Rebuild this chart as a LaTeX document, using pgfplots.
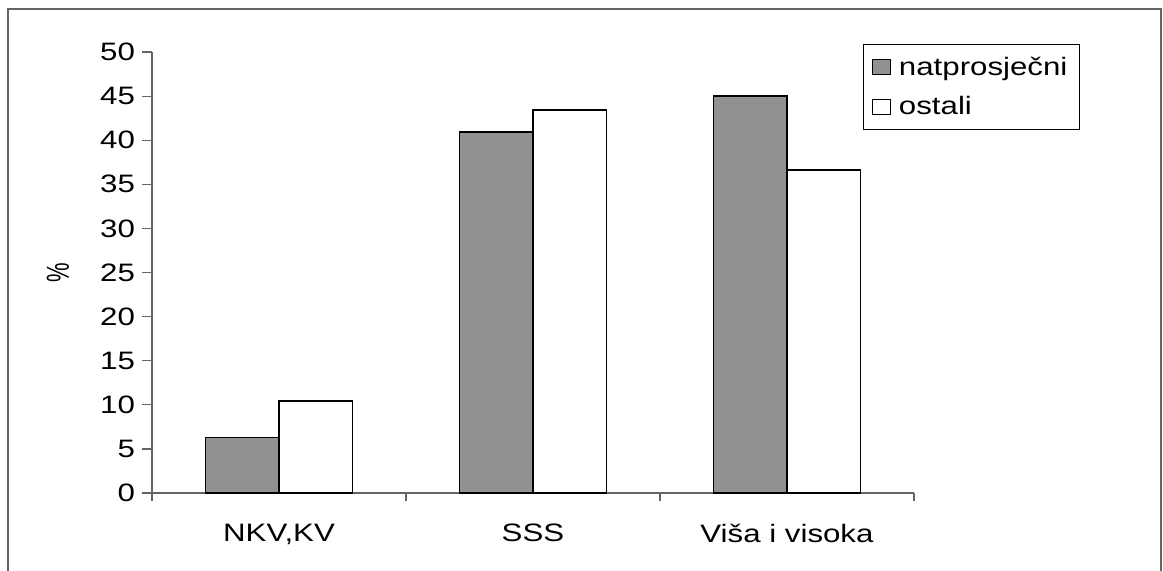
\documentclass[border=0pt]{standalone}
\usepackage{pgfplots}
\pgfplotsset{compat=1.18}
\usepackage{fontspec}
\setmainfont[FakeStretch=1.24]{Liberation Sans}
\newfontfamily\plainfont{Liberation Sans}
\definecolor{barGray}{RGB}{145,145,145}
\definecolor{axGray}{RGB}{100,100,100}
\begin{document}
\begin{tikzpicture}
\useasboundingbox (-76pt,-38.5pt) rectangle (505.5pt,246.5pt);
\draw[axGray,line width=0.6pt] (-72pt,-40pt) -- (-72pt,242pt) -- (504.5pt,242pt) -- (504.5pt,-40pt);
\begin{axis}[
  at={(0,0)}, anchor=south west,
  scale only axis,
  width=381pt, height=220.5pt,
  ybar=0pt, bar width=36.75pt,
  xmin=-0.5, xmax=2.5,
  ymin=0, ymax=50,
  ytick={0,5,...,50},
  xtick={0,1,2},
  xticklabels={{NKV,KV},SSS,{Viša i visoka}},
  minor xtick={-0.5,0.5,1.5,2.5},
  axis x line*=bottom, axis y line*=left,
  axis line style={axGray,line width=0.6pt},
  tick align=outside,
  major tick length=5pt, minor tick length=4pt,
  major x tick style={draw=none},
  minor x tick style={axGray,line width=0.6pt},
  major y tick style={axGray,line width=0.6pt},
  font=\fontsize{12.6}{15}\selectfont,
  /pgf/number format/assume math mode=true,
  ticklabel style={font=\fontsize{12.6}{15}\selectfont},
  xticklabel style={yshift=-7pt},
  yticklabel style={anchor=east},
  ylabel={\scalebox{1}[1.45]{\plainfont\fontsize{11}{13}\selectfont\%}},
  every axis y label/.style={at={(axis description cs:-0.1234,0.5)}, anchor=center, rotate=90},
  legend style={at={(axis description cs:0.933,1.018)}, anchor=north west,
    draw=black, line width=0.6pt, font=\fontsize{12.6}{15}\selectfont,
    inner xsep=4pt, inner ysep=4pt, row sep=5pt, cells={anchor=west}},
  legend image code/.code={\draw[#1,line width=0.6pt] (1pt,-3.75pt) rectangle (10pt,3.75pt); \path (12pt,0pt);},
  clip=false,
]
\addplot[fill=barGray, draw=black, line width=0.8pt] coordinates {(0,6.3) (1,40.9) (2,45.0)};
\addplot[fill=white, draw=black, line width=0.8pt] coordinates {(0,10.4) (1,43.4) (2,36.6)};
\legend{natprosječni, ostali}
\end{axis}
\end{tikzpicture}
\end{document}
